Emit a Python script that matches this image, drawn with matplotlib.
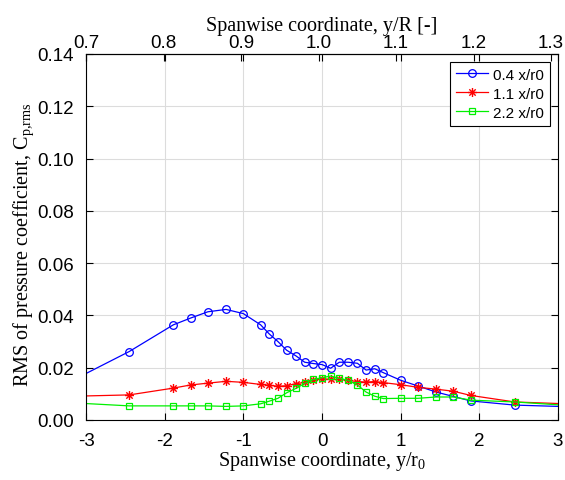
import matplotlib
matplotlib.use("Agg")
import matplotlib.pyplot as plt
from matplotlib.path import Path
from matplotlib.ticker import FormatStrFormatter

plt.rcParams["mathtext.fontset"] = "custom"
plt.rcParams["mathtext.rm"] = "Liberation Serif"
plt.rcParams["mathtext.it"] = "Liberation Serif"
plt.rcParams["axes.unicode_minus"] = False

# Spanwise stations y/r0 (outer points lie beyond the plotted range)
y_r0 = [-3.56, -2.45, -1.89, -1.67, -1.45, -1.22, -1.00, -0.78, -0.67, -0.56,
        -0.45, -0.33, -0.22, -0.11, 0.00, 0.11, 0.22, 0.33, 0.45, 0.56,
        0.67, 0.78, 1.00, 1.22, 1.45, 1.67, 1.89, 2.45, 3.56]

cp_04 = [0.0092, 0.0262, 0.0364, 0.0390, 0.0414, 0.0423, 0.0407, 0.0364, 0.0329, 0.0300,
         0.0267, 0.0245, 0.0221, 0.0216, 0.0212, 0.0198, 0.0221, 0.0221, 0.0217, 0.0191,
         0.0196, 0.0181, 0.0152, 0.0130, 0.0107, 0.0090, 0.0073, 0.0057, 0.0047]
cp_11 = [0.0088, 0.0096, 0.0122, 0.0134, 0.0141, 0.0148, 0.0144, 0.0136, 0.0133, 0.0129,
         0.0131, 0.0139, 0.0144, 0.0152, 0.0158, 0.0155, 0.0155, 0.0152, 0.0147, 0.0145,
         0.0147, 0.0143, 0.0135, 0.0125, 0.0118, 0.0110, 0.0094, 0.0069, 0.0057]
cp_22 = [0.0072, 0.0054, 0.0054, 0.0054, 0.0054, 0.0052, 0.0054, 0.0062, 0.0072, 0.0083,
         0.0104, 0.0121, 0.0140, 0.0155, 0.0162, 0.0168, 0.0159, 0.0152, 0.0134, 0.0107,
         0.0091, 0.0082, 0.0083, 0.0083, 0.0088, 0.0088, 0.0076, 0.0069, 0.0047]

labels = ["0.4 x/r0", "1.1 x/r0", "2.2 x/r0"]
x_ticks = [-3, -2, -1, 0, 1, 2, 3]
y_ticks = [0.00, 0.02, 0.04, 0.06, 0.08, 0.10, 0.12, 0.14]
top_ticks = [0.7, 0.8, 0.9, 1.0, 1.1, 1.2, 1.3]

# y/R = 0.7 + (y/r0 + 3) * ratio
ratio = 0.1015

# eight-armed asterisk marker made of open strokes
d = 0.7071
asterisk = Path([(-1, 0), (1, 0), (0, -1), (0, 1), (-d, -d), (d, d), (-d, d), (d, -d)],
                [Path.MOVETO, Path.LINETO] * 4)

fig = plt.figure(figsize=(5.65, 4.81), dpi=100)
ax = fig.add_axes([86 / 565, 1 - 421 / 481, 472 / 565, 366 / 481])

ax.plot(y_r0, cp_04, color="#0000ff", lw=0.9, marker="o", ms=5.5, mfc="none", mew=0.9,
        label=labels[0])
ax.plot(y_r0, cp_11, color="#ff0000", lw=0.9, marker=asterisk, ms=6.5, mfc="none",
        mew=1.0, label=labels[1])
ax.plot(y_r0, cp_22, color="#00f000", lw=0.9, marker="s", ms=5, mfc="none", mew=0.9,
        label=labels[2])

ax.set_xlim(-3, 3)
ax.set_ylim(0, 0.14)
ax.set_xticks(x_ticks)
ax.set_yticks(y_ticks)
ax.yaxis.set_major_formatter(FormatStrFormatter("%.2f"))
ax.grid(True, color="#dcdcdc", lw=0.8)
ax.set_axisbelow(True)
ax.tick_params(direction="in", length=5, top=True, right=True, labelsize=13.5,
               width=0.8)
ax.tick_params(axis="x", pad=9)
ax.tick_params(axis="y", pad=9)
for lbl in ax.get_xticklabels() + ax.get_yticklabels():
    lbl.set_fontfamily("Liberation Sans")
for s in ax.spines.values():
    s.set_linewidth(0.8)

ax.set_xlabel("Spanwise coordinate, y/r$_0$", family="Liberation Serif", fontsize=14.5,
              labelpad=0)
ax.set_ylabel("RMS of pressure coefficient, C$_{\\mathrm{p{,}rms}}$",
              family="Liberation Serif", fontsize=14.5)
ax.yaxis.set_label_coords(-0.106, 0.482)

sec = ax.secondary_xaxis("top", functions=(lambda v: 0.7 + (v + 3) * ratio,
                                            lambda u: (u - 0.7) / ratio - 3))
sec.set_xticks(top_ticks)
sec.xaxis.set_major_formatter(FormatStrFormatter("%.1f"))
sec.tick_params(direction="in", length=5, labelsize=13.5, width=0.8, pad=2)
for lbl in sec.get_xticklabels():
    lbl.set_fontfamily("Liberation Sans")
sec.set_xlabel("Spanwise coordinate, y/R [-]", family="Liberation Serif", fontsize=14.5,
               labelpad=3)

leg = ax.legend(loc="upper right", prop={"family": "Liberation Sans", "size": 11},
                fancybox=False, edgecolor="black", framealpha=1, handlelength=2.1,
                borderaxespad=0.5, labelspacing=0.32, handletextpad=0.35,
                borderpad=0.4)
leg.get_frame().set_linewidth(0.8)

fig.savefig("out.png", dpi=100)
